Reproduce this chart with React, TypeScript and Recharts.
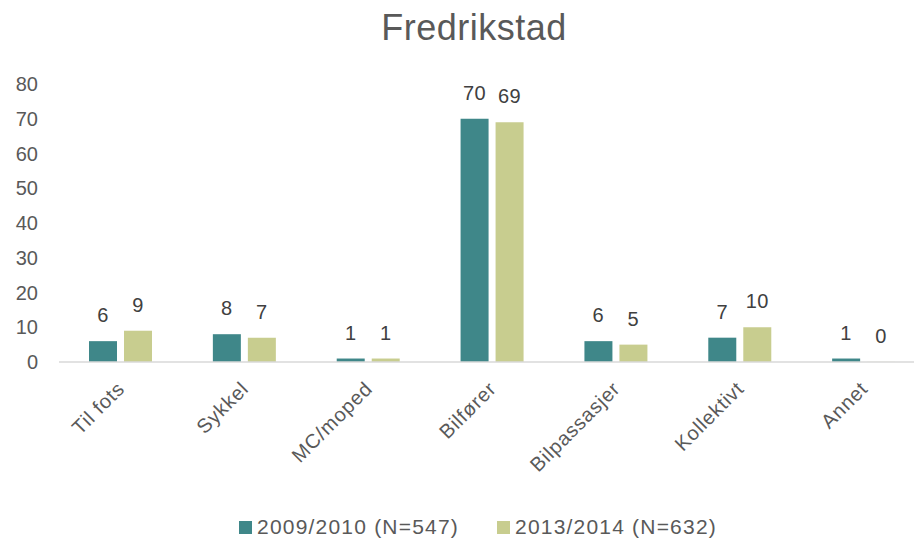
import { BarChart, Bar, XAxis, YAxis, Legend, LabelList } from 'recharts'

const categories = ['Til fots', 'Sykkel', 'MC/moped', 'Bilfører', 'Bilpassasjer', 'Kollektivt', 'Annet']
const series2009 = [6, 8, 1, 70, 6, 7, 1]
const series2013 = [9, 7, 1, 69, 5, 10, 0]
const yTicks = [0, 10, 20, 30, 40, 50, 60, 70, 80]

const TEAL = '#3F8789'
const GREEN = '#C8CD8F'
const FONT = "'Liberation Sans', Arial, sans-serif"

const data = categories.map((name, i) => ({ name, a: series2009[i], b: series2013[i] }))

function XTick(props: any) {
  const { x, y, payload } = props
  const tx = x + 5
  const ty = y + 20
  return (
    <text
      x={tx}
      y={ty}
      transform={`rotate(-45, ${tx}, ${ty})`}
      textAnchor="end"
      fontSize={20}
      fill="#595959"
      style={{ fontFamily: FONT, letterSpacing: 0.8 }}
    >
      {payload.value}
    </text>
  )
}

function LegendBox() {
  const item = (color: string, label: string, gap: number) => (
    <span style={{ display: 'inline-flex', alignItems: 'center', marginRight: gap }}>
      <span style={{ width: 13, height: 13, background: color, display: 'inline-block', marginRight: 5 }} />
      <span>{label}</span>
    </span>
  )
  return (
    <div
      style={{
        fontFamily: FONT, fontSize: 21, letterSpacing: 1.2, color: '#595959',
        display: 'flex', justifyContent: 'center', width: 956,
      }}
    >
      {item(TEAL, '2009/2010 (N=547)', 38)}
      {item(GREEN, '2013/2014 (N=632)', 0)}
    </div>
  )
}

export default function App() {
  return (
    <div style={{ position: 'absolute', left: 0, top: 0, width: 914, height: 538, overflow: 'hidden', background: '#fff' }}>
      <div
        style={{
          position: 'absolute', left: 0, top: 7, width: 948, textAlign: 'center',
          fontFamily: FONT, fontSize: 36, letterSpacing: 0.5, color: '#595959',
        }}
      >
        Fredrikstad
      </div>
      <BarChart
        width={940}
        height={538}
        data={data}
        margin={{ top: 84, right: 14, left: 0, bottom: 0 }}
        barSize={28}
        barGap={7}
        style={{ fontFamily: FONT }}
      >
        <XAxis
          dataKey="name"
          tick={<XTick />}
          tickLine={false}
          axisLine={{ stroke: '#D9D9D9', strokeWidth: 1.5 }}
          interval={0}
          height={140}
        />
        <YAxis
          domain={[0, 80]}
          ticks={yTicks}
          width={59}
          axisLine={false}
          tickLine={false}
          tickMargin={15}
          tick={{ fontSize: 20, fill: '#595959', style: { fontFamily: FONT } }}
        />
        <Legend
          verticalAlign="bottom"
          content={<LegendBox />}
          wrapperStyle={{ left: 0, width: 956, height: 36, bottom: -13 }}
        />
        <Bar dataKey="a" fill={TEAL} isAnimationActive={false}>
          <LabelList dataKey="a" position="top" offset={19} fontSize={20} fill="#404040" style={{ fontFamily: FONT, letterSpacing: 0.5 }} />
        </Bar>
        <Bar dataKey="b" fill={GREEN} isAnimationActive={false} minPointSize={0.1}>
          <LabelList dataKey="b" position="top" offset={19} fontSize={20} fill="#404040" style={{ fontFamily: FONT, letterSpacing: 0.5 }} />
        </Bar>
      </BarChart>
    </div>
  )
}
